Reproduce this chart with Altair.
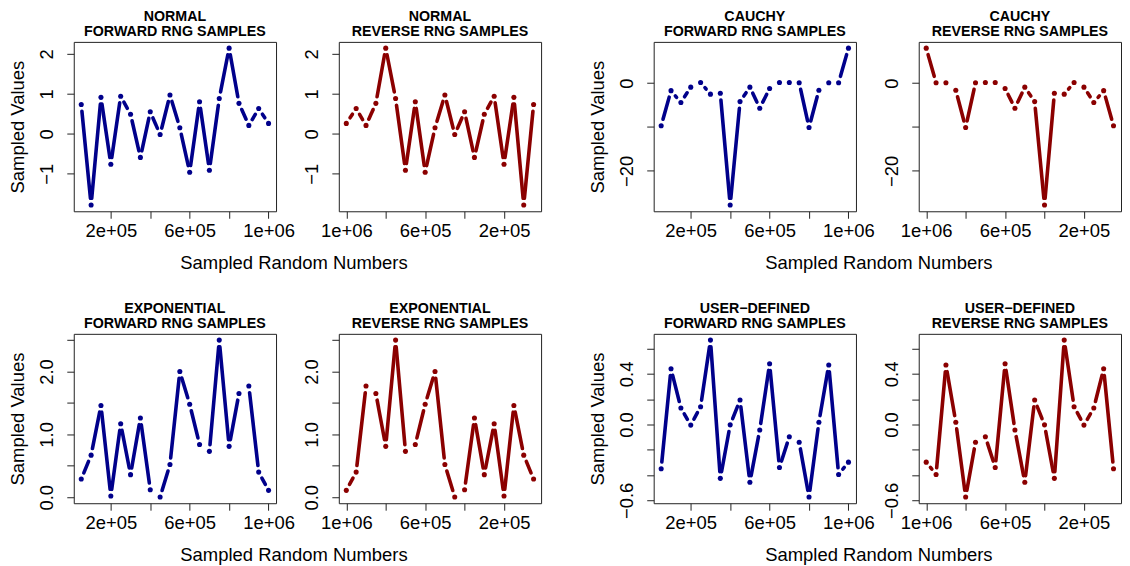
import math
import altair as alt
import pandas as pd

# ---------------- data ----------------
SAMPLE_POS = [50000, 100000, 150000, 200000, 250000, 300000, 350000, 400000, 450000, 500000,
              550000, 600000, 650000, 700000, 750000, 800000, 850000, 900000, 950000, 1000000]

NORMAL = [0.73, -1.78, 0.91, -0.76, 0.94, 0.49, -0.59, 0.55, -0.02, 0.97,
          0.15, -0.96, 0.80, -0.91, 0.88, 2.14, 0.76, 0.21, 0.63, 0.26]
CAUCHY = [-9.7, -1.7, -4.4, -0.9, 0.15, -2.5, -2.3, -27.8, -4.2, -0.9,
          -5.7, -1.2, 0.15, 0.15, 0.1, -10.1, -1.6, 0.1, 0.1, 8.0]
EXPONENTIAL = [0.29, 0.67, 1.46, 0.02, 1.17, 0.36, 1.26, 0.12, 0.005, 0.52,
               2.0, 1.48, 0.84, 0.73, 2.5, 0.81, 1.65, 1.77, 0.40, 0.11]
USER_DEFINED = [-0.35, 0.44, 0.13, -0.005, 0.14, 0.667, -0.426, -0.003, 0.193, -0.457,
                -0.044, 0.48, -0.34, -0.097, -0.141, -0.573, 0.018, 0.47, -0.395, -0.298]

X_TICKS = [200000, 400000, 600000, 800000, 1000000]
X_LABELS = ["2e+05", "", "6e+05", "", "1e+06"]

Y_TICKS = {
    "NORMAL": [-1, 0, 1, 2],
    "CAUCHY": [-20, -10, 0],
    "EXPONENTIAL": [0, 0.5, 1, 1.5, 2, 2.5],
    "USER\u2212DEFINED": [-0.6, -0.4, -0.2, 0, 0.2, 0.4, 0.6],
}
Y_LABELS = {
    "NORMAL": ["\u22121", "0", "1", "2"],
    "CAUCHY": ["\u221220", "", "0"],
    "EXPONENTIAL": ["0.0", "", "1.0", "", "2.0", ""],
    "USER\u2212DEFINED": ["\u22120.6", "", "", "0.0", "", "0.4", ""],
}
SERIES = {
    "NORMAL": NORMAL,
    "CAUCHY": CAUCHY,
    "EXPONENTIAL": EXPONENTIAL,
    "USER\u2212DEFINED": USER_DEFINED,
}

# ---------------- style ----------------
W, H = 203, 170
GAP = 6.75          # R type="b" gap around points (px)
FONT = "Liberation Sans"
BLUE = "#00008B"
RED = "#8B0000"
FS = 18.5


def pad_domain(vals):
    lo, hi = min(vals), max(vals)
    d = (hi - lo) * 0.04
    return [lo - d, hi + d]


def label_expr(ticks, labels):
    expr = "''"
    for v, l in zip(reversed(ticks), reversed(labels)):
        expr = f"abs(datum.value - ({v})) < 1e-9 ? '{l}' : ({expr})"
    return expr


def panel(name, direction, color, ytitle):
    vals = SERIES[name]
    xdom = pad_domain(SAMPLE_POS)
    ydom = pad_domain(vals)
    sx = W / (xdom[1] - xdom[0])
    sy = H / (ydom[1] - ydom[0])
    segs = []
    for i in range(len(vals) - 1):
        dx = SAMPLE_POS[i + 1] - SAMPLE_POS[i]
        dy = vals[i + 1] - vals[i]
        d = math.hypot(dx * sx, dy * sy)
        if d > 2 * GAP:
            t = GAP / d
            segs.append({
                "x": SAMPLE_POS[i] + t * dx, "y": vals[i] + t * dy,
                "x2": SAMPLE_POS[i + 1] - t * dx, "y2": vals[i + 1] - t * dy,
            })
    seg_df = pd.DataFrame(segs)
    pt_df = pd.DataFrame({"x": SAMPLE_POS, "y": vals})

    xscale = alt.Scale(domain=xdom, nice=False, zero=False, reverse=(direction == "REVERSE"))
    yscale = alt.Scale(domain=ydom, nice=False, zero=False)
    xaxis = alt.Axis(title=None, values=X_TICKS, labelExpr=label_expr(X_TICKS, X_LABELS),
                     labelFlush=False, labelOverlap=False, labelPadding=3,
                     labelFontSize=FS, labelFont=FONT, grid=False)
    yaxis_kw = dict(values=Y_TICKS[name], labelExpr=label_expr(Y_TICKS[name], Y_LABELS[name]),
                    labelAngle=270, labelAlign="center", labelBaseline="bottom",
                    labelFlush=False, labelOverlap=False, labelPadding=10,
                    labelFontSize=FS, labelFont=FONT, grid=False,
                    titlePadding=10, titleFontSize=FS, titleFontWeight="normal", titleFont=FONT)
    if ytitle:
        yaxis = alt.Axis(title="Sampled Values", **yaxis_kw)
    else:
        yaxis = alt.Axis(title=None, **yaxis_kw)

    rules = alt.Chart(seg_df).mark_rule(color=color, strokeWidth=3.6, strokeCap="round").encode(
        x=alt.X("x:Q", scale=xscale, axis=xaxis),
        y=alt.Y("y:Q", scale=yscale, axis=yaxis),
        x2="x2:Q",
        y2="y2:Q",
    )
    pts = alt.Chart(pt_df).mark_point(filled=True, shape="circle", size=26, color=color, opacity=1).encode(
        x=alt.X("x:Q", scale=xscale, axis=xaxis),
        y=alt.Y("y:Q", scale=yscale, axis=yaxis),
    )
    return alt.layer(rules, pts).properties(
        width=W, height=H,
        title=alt.TitleParams(
            text=[name, f"{direction} RNG SAMPLES"], fontSize=14.3, fontWeight="bold", font=FONT,
            anchor="middle", frame="group", lineHeight=15, offset=3, color="black",
        ),
    )


def pair(name, dx):
    return alt.hconcat(
        panel(name, "FORWARD", BLUE, True),
        panel(name, "REVERSE", RED, False),
        spacing=7,
    ).properties(
        title=alt.TitleParams(
            "Sampled Random Numbers", orient="bottom", anchor="middle", fontSize=FS,
            fontWeight="normal", font=FONT, color="black", offset=14, dx=dx,
        )
    )


row1 = alt.hconcat(pair("NORMAL", 19), pair("CAUCHY", 24), spacing=46)
row2 = alt.hconcat(pair("EXPONENTIAL", 19), pair("USER\u2212DEFINED", 24), spacing=46)

chart = alt.vconcat(row1, row2, spacing=28).properties(
    padding={"left": 0, "top": 0, "right": 0, "bottom": 0},
    background="white",
).configure_view(
    stroke="#222", strokeWidth=1
).configure_axis(
    grid=False, domain=False, tickSize=7, tickColor="#222", tickWidth=1,
    labelFont=FONT, labelFontSize=FS, labelColor="black", labelOverlap=False,
)

chart.save("out.html", embed_options={"renderer": "svg", "actions": False})
